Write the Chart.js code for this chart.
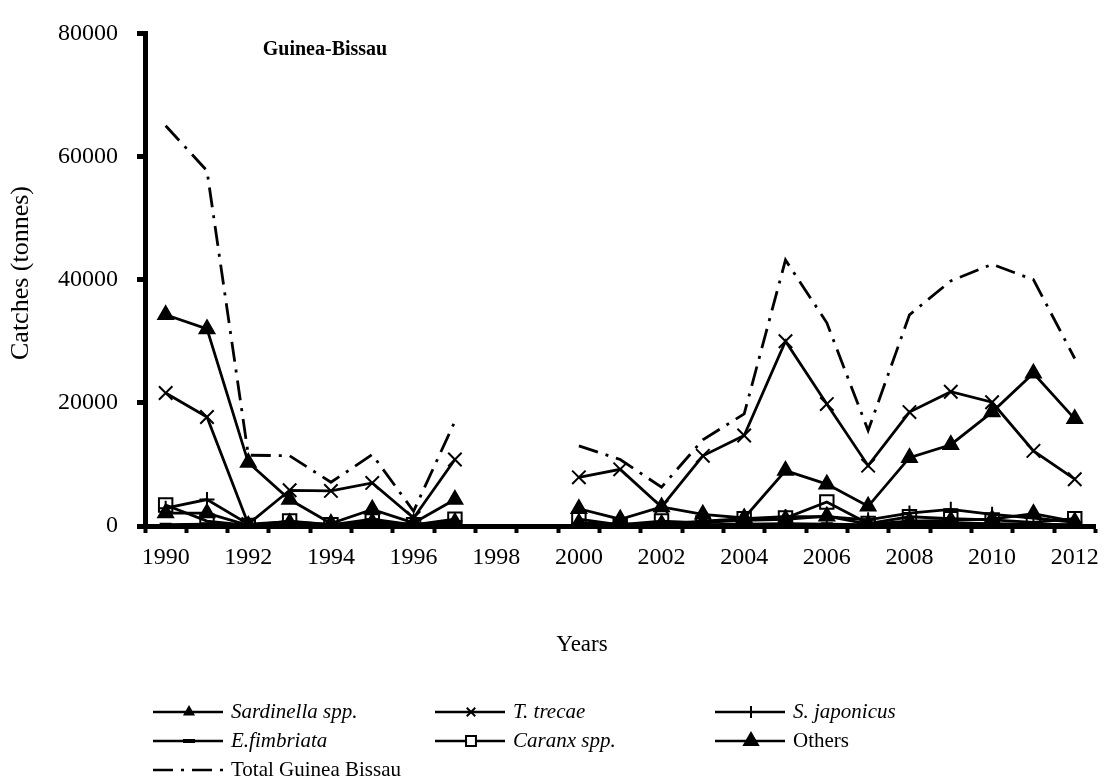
<!DOCTYPE html>
<html>
<head>
<meta charset="utf-8">
<script src="https://cdn.jsdelivr.net/npm/chart.js@4/dist/chart.umd.min.js"></script>
<style>
  html, body { margin: 0; padding: 0; background: #fff; }
  #wrap { width: 1109px; height: 784px; }
</style>
</head>
<body>
<div id="wrap"><canvas id="catchChart" width="1109" height="784"></canvas></div>
<script>
// years on the x axis (1998 and 1999 have no data)
const years = ['1990','1991','1992','1993','1994','1995','1996','1997','1998','1999','2000','2001',
  '2002','2003','2004','2005','2006','2007','2008','2009','2010','2011','2012'];
const yTicks = [0, 20000, 40000, 60000, 80000];

// catches in tonnes
const sardinella = [34300, 32000, 10300, 4300, 400, 2700, 500, 4300, null, null,
  2800, 1100, 3100, 1900, 1300, 9000, 6800, 3200, 11100, 13200, 18500, 24800, 17400];
const tTrecae = [21600, 17700, 300, 5800, 5700, 7000, 1300, 10800, null, null,
  7900, 9200, 3100, 11400, 14700, 30000, 19800, 9800, 18500, 21800, 20100, 12200, 7600];
const sJaponicus = [2900, 4300, 300, 700, 200, 1100, 200, 800, null, null,
  500, 300, 300, 800, 1200, 1500, 1500, 1000, 2100, 2700, 1900, 1300, 600];
const eFimbriata = [200, 300, 100, 200, 100, 300, 100, 200, null, null,
  200, 100, 100, 200, 300, 400, 300, 200, 600, 500, 400, 300, 200];
const caranx = [3400, 800, 100, 800, 200, 800, 200, 1100, null, null,
  1100, 200, 800, 500, 1200, 1300, 3900, 400, 1500, 1200, 1000, 600, 1200];
const others = [2100, 2100, 100, 500, 100, 600, 100, 600, null, null,
  500, 200, 300, 600, 900, 1100, 1600, 300, 800, 900, 1100, 2000, 700];
const totalGB = [65000, 57700, 11500, 11400, 7100, 11600, 2400, 17000, null, null,
  13000, 10800, 6300, 14000, 18200, 43200, 33000, 15500, 34300, 39800, 42500, 40000, 27200];

const serif = '"Liberation Serif", "Times New Roman", serif';
const totalDash = [20, 8, 3, 8];

function series(label, data, style, radius, bw, fill) {
  return {
    label: label,
    data: data,
    borderColor: '#000',
    borderWidth: 2.8,
    pointStyle: style,
    pointRadius: radius,
    pointBorderWidth: bw,
    pointBorderColor: '#000',
    pointBackgroundColor: fill,
    spanGaps: false,
    tension: 0,
    fill: false
  };
}

const datasets = [
  series('Sardinella spp.', sardinella, 'triangle', 9, 1.5, '#000'),
  series('T. trecae', tTrecae, 'crossRot', 9.5, 2, '#000'),
  series('S. japonicus', sJaponicus, 'cross', 7.5, 2, '#000'),
  series('E.fimbriata', eFimbriata, 'line', 6, 4, '#000'),
  series('Caranx spp.', caranx, 'rect', 9.5, 2, 'rgba(0,0,0,0)'),
  series('Others', others, 'triangle', 9, 1.5, '#000'),
  Object.assign(series('Total Guinea Bissau', totalGB, false, 0, 0, '#000'), { borderDash: totalDash })
];

// legend: [dataset index, column x, row y, italic, marker radius]
const legendCells = [
  [0, 153, 712, true, 5], [1, 435, 712, true, 6], [2, 715, 712, true, 6],
  [3, 153, 741, true, 6], [4, 435, 741, true, 7], [5, 715, 741, false, 8],
  [6, 153, 770, false, 0]
];

const textPlugin = {
  id: 'textPlugin',
  afterDraw(chart) {
    const ctx = chart.ctx;
    ctx.save();
    ctx.fillStyle = '#000';
    ctx.strokeStyle = '#000';
    ctx.textAlign = 'center';
    ctx.textBaseline = 'middle';
    ctx.font = 'bold 20px ' + serif;
    ctx.fillText('Guinea-Bissau', 325, 50);
    ctx.font = '23px ' + serif;
    ctx.fillText('Years', 582, 645);
    ctx.save();
    ctx.translate(21, 273);
    ctx.rotate(-Math.PI / 2);
    ctx.font = '26px ' + serif;
    ctx.fillText('Catches (tonnes)', 0, 0);
    ctx.restore();

    // legend
    ctx.textAlign = 'left';
    legendCells.forEach(function (c) {
      const ds = datasets[c[0]];
      const x = c[1], y = c[2];
      ctx.lineWidth = 2.5;
      ctx.setLineDash(ds.borderDash || []);
      ctx.beginPath();
      ctx.moveTo(x, y);
      ctx.lineTo(x + 70, y);
      ctx.stroke();
      ctx.setLineDash([]);
      if (ds.pointStyle) {
        ctx.fillStyle = ds.pointBackgroundColor === '#000' ? '#000' : '#fff';
        ctx.lineWidth = ds.pointStyle === 'line' ? 4 : 2;
        Chart.helpers.drawPoint(ctx, { pointStyle: ds.pointStyle, radius: c[4], rotation: 0, borderWidth: ctx.lineWidth }, x + 36, y);
        ctx.fillStyle = '#000';
      }
      ctx.font = (c[3] ? 'italic ' : '') + '21px ' + serif;
      ctx.fillText(ds.label, x + 78, y);
    });
    ctx.restore();
  }
};

const ctx = document.getElementById('catchChart').getContext('2d');
const catchChart = new Chart(ctx, {
  type: 'line',
  data: { labels: years, datasets: datasets },
  plugins: [textPlugin],
  options: {
    responsive: false,
    animation: false,
    devicePixelRatio: 1,
    layout: { padding: { top: 20, right: 7, bottom: 0, left: 0 } },
    plugins: { legend: { display: false }, title: { display: false }, tooltip: { enabled: false } },
    scales: {
      x: {
        type: 'category',
        offset: true,
        grid: { offset: true, drawOnChartArea: false, drawTicks: true, tickLength: 7, tickWidth: 4, tickColor: '#000' },
        border: { color: '#000', width: 5 },
        ticks: {
          autoSkip: false, maxRotation: 0, color: '#000', padding: 10,
          font: { family: serif, size: 24 },
          callback: function (val, i) { return i % 2 === 0 ? this.getLabelForValue(val) : ''; }
        },
        afterFit: function (s) { s.height = 258; }
      },
      y: {
        min: 0, max: 80000,
        afterBuildTicks: function (s) { s.ticks = yTicks.map(v => ({ value: v })); },
        grid: { drawOnChartArea: false, drawTicks: true, tickLength: 8, tickWidth: 5, tickColor: '#000' },
        border: { color: '#000', width: 5 },
        ticks: { color: '#000', padding: 19, font: { family: serif, size: 24 }, callback: v => String(v) },
        afterFit: function (s) { s.width = 145; }
      }
    }
  }
});
</script>
</body>
</html>
